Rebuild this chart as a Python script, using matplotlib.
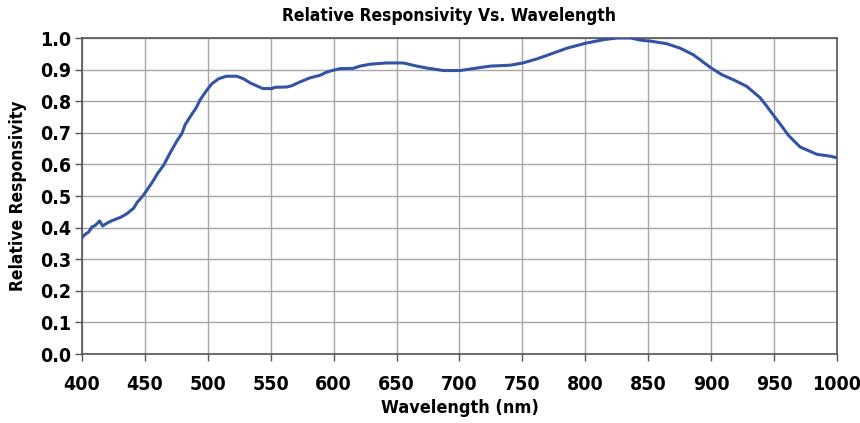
import matplotlib
matplotlib.use("Agg")
import matplotlib.pyplot as plt
from matplotlib import font_manager

wavelength = [400, 402.6, 405.3, 407.9, 410.6, 414, 416.4, 419.8, 423.8, 430.4, 435.7, 441, 443.7,
              448.9, 455.6, 460, 464.8, 470.1, 475.4, 479.4, 482, 486, 490.7, 494, 499.2, 503.2,
              508.5, 514.6, 523, 528.3, 533.6, 543.7, 550.8, 553.4, 562.7, 566.7, 573.3, 581.2,
              589.2, 594.4, 599.7, 605, 615.6, 620.9, 628.8, 642, 655.3, 666, 674, 687.2, 700.5,
              713.8, 724.5, 740.4, 750.3, 761.7, 772.3, 785.6, 800.8, 814.9, 825.5, 836.2, 844.1,
              852, 864.6, 875.2, 885.8, 900, 908.4, 917.6, 928.2, 938.9, 944.2, 950, 956.1, 961.4,
              970.7, 984, 994.6, 1000]
responsivity = [0.368, 0.379, 0.386, 0.402, 0.407, 0.421, 0.405, 0.414, 0.422, 0.432, 0.444, 0.461,
                0.479, 0.503, 0.542, 0.571, 0.597, 0.637, 0.674, 0.698, 0.726, 0.751, 0.779, 0.805,
                0.835, 0.855, 0.871, 0.879, 0.879, 0.871, 0.858, 0.840, 0.840, 0.844, 0.845, 0.849,
                0.861, 0.874, 0.882, 0.892, 0.898, 0.903, 0.904, 0.911, 0.917, 0.921, 0.921, 0.911,
                0.905, 0.897, 0.897, 0.905, 0.911, 0.914, 0.921, 0.934, 0.949, 0.968, 0.984, 0.995,
                1.000, 1.000, 0.993, 0.990, 0.982, 0.968, 0.947, 0.905, 0.884, 0.868, 0.847, 0.811,
                0.784, 0.753, 0.721, 0.692, 0.655, 0.632, 0.626, 0.621]
x_ticks = list(range(400, 1001, 50))
y_ticks = [i / 10 for i in range(11)]

# pick a condensed bold font if available
cond = None
for f in font_manager.fontManager.ttflist:
    n = f.fname.lower()
    if ('narrow' in n or 'condensed' in n) and 'bold' in n and 'oblique' not in n and 'italic' not in n:
        if cond is None or 'liberation' in n:
            cond = f.fname

def fprop(size):
    if cond:
        return font_manager.FontProperties(fname=cond, size=size)
    return font_manager.FontProperties(family='DejaVu Sans', weight='bold', size=size)

fig = plt.figure(figsize=(8.6, 4.23), dpi=100)
ax = fig.add_axes([82/860, 1 - 354/423, (837-82)/860, (354-38)/423])

ax.plot(wavelength, responsivity, color='#3553a4', linewidth=2.2, zorder=3)

ax.set_xlim(400, 1000)
ax.set_ylim(0, 1.0)
ax.set_xticks(x_ticks)
ax.set_yticks(y_ticks)
ax.set_xticklabels([str(v) for v in x_ticks])
ax.set_yticklabels([f"{v:.1f}" for v in y_ticks])
ax.grid(True, color='#a6a6a6', linewidth=1.0)
ax.set_axisbelow(True)
for s in ax.spines.values():
    s.set_color('#555555')
    s.set_linewidth(1.2)
ax.tick_params(axis='both', direction='out', length=5, width=1.0, color='#555555',
               labelcolor='black')
ax.tick_params(axis='x', pad=10)
ax.tick_params(axis='y', pad=3)
for lbl in ax.get_xticklabels() + ax.get_yticklabels():
    lbl.set_fontproperties(fprop(14))

ax.set_xlabel('Wavelength (nm)', fontproperties=fprop(13), labelpad=4)
ax.set_ylabel('Relative Responsivity', fontproperties=fprop(12.5), labelpad=9)
fig.text(449/860, 1 - 16/423, 'Relative Responsivity Vs. Wavelength', ha='center', va='center',
         fontproperties=fprop(12.5))

fig.savefig('out.png', dpi=100)
